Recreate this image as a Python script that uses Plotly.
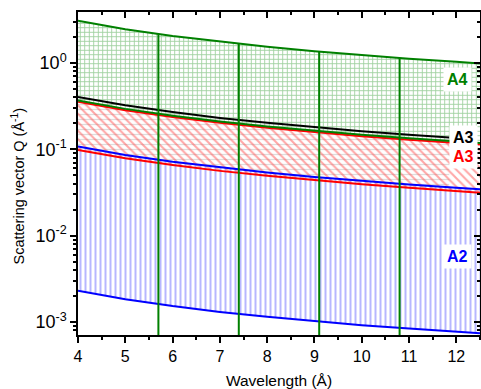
import math
import plotly.graph_objects as go

# ---- data ----
wavelength = [4, 5, 6, 7, 8, 9, 10, 11, 12, 12.5]
a4_upper = [3.08, 2.46, 2.05, 1.76, 1.54, 1.37, 1.23, 1.12, 1.03, 0.985]
a4_lower = [0.368, 0.294, 0.245, 0.21, 0.184, 0.163, 0.147, 0.134, 0.1225, 0.118]
wavelength_a3k = [4, 5, 6, 7, 8, 9, 10, 11, 11.85]
a3k_upper = [0.405, 0.324, 0.27, 0.231, 0.203, 0.18, 0.162, 0.147, 0.137]
a3r_upper = [0.355, 0.284, 0.237, 0.203, 0.178, 0.158, 0.142, 0.129, 0.118, 0.114]
a3r_lower = [0.0985, 0.0788, 0.0657, 0.0563, 0.0493, 0.0438, 0.0394, 0.0358, 0.0328, 0.0315]
a2_upper = [0.108, 0.0862, 0.0718, 0.0616, 0.0539, 0.0479, 0.0431, 0.0392, 0.0359, 0.0345]
a2_lower = [0.0023, 0.00184, 0.00153, 0.00131, 0.00115, 0.00102, 0.00092, 0.00084, 0.00077, 0.00074]
vline_lambda = [5.7, 7.4, 9.1, 10.8]
vline_top = [2.16, 1.66, 1.35, 1.14]
vline_bottom = 0.0001

ytick_vals = [0.001, 0.01, 0.1, 1]
ytick_text = ["10<sup>-3</sup>", "10<sup>-2</sup>", "10<sup>-1</sup>", "10<sup>0</sup>"]

label_text = ["A4", "A3", "A3", "A2"]
label_x = [12.02, 12.15, 12.15, 12.02]
label_q = [0.636, 0.138, 0.0815, 0.0057]

GREEN = "#008000"
RED = "#ff0000"
BLUE = "#0000ff"
label_color = [GREEN, "#000000", RED, BLUE]
FONT = "Liberation Sans, Arial, sans-serif"

fig = go.Figure()

def band(x, lo, hi, shape, fg, size, solidity):
    fig.add_trace(go.Scatter(x=x, y=lo, mode="lines", line=dict(width=0),
                             hoverinfo="skip", showlegend=False))
    fig.add_trace(go.Scatter(x=x, y=hi, mode="lines", line=dict(width=0),
                             fill="tonexty", fillcolor="rgba(0,0,0,0)",
                             fillpattern=dict(shape=shape, fgcolor=fg,
                                              bgcolor="rgba(0,0,0,0)",
                                              size=size, solidity=solidity),
                             hoverinfo="skip", showlegend=False))

# hatched regions
band(wavelength, a2_lower, a2_upper, "|", "rgb(110,110,255)", 5, 0.4)
a2_up_k = a2_upper[:len(wavelength_a3k) - 1] + [0.0364]
band(wavelength_a3k, a2_up_k, a3k_upper, "-", "rgba(130,130,130,0.55)", 5, 0.25)
band(wavelength, a3r_lower, a3r_upper, "\\", "rgb(255,80,80)", 6, 0.35)
band(wavelength, a4_lower, a4_upper, "+", "rgb(60,160,60)", 4.5, 0.35)

# boundary lines
def line(x, y, color):
    fig.add_trace(go.Scatter(x=x, y=y, mode="lines", line=dict(color=color, width=2),
                             hoverinfo="skip", showlegend=False))

line(wavelength, a2_lower, BLUE)
line(wavelength, a3r_lower, RED)
line(wavelength, a2_upper, BLUE)
line(wavelength, a3r_upper, RED)
line(wavelength_a3k, a3k_upper, "#000000")
line(wavelength, a4_lower, GREEN)
line(wavelength, a4_upper, GREEN)

vx, vy = [], []
for lam, top in zip(vline_lambda, vline_top):
    vx += [lam, lam, None]
    vy += [vline_bottom, top, None]
fig.add_trace(go.Scatter(x=vx, y=vy, mode="lines", line=dict(color=GREEN, width=2),
                         hoverinfo="skip", showlegend=False))

# dummy trace for mirrored axes
fig.add_trace(go.Scatter(x=[None], y=[None], xaxis="x2", yaxis="y2",
                         showlegend=False, hoverinfo="skip"))

# labels (annotation y on a log axis is given in log10 units)
for txt, lx, lq, col in zip(label_text, label_x, label_q, label_color):
    fig.add_annotation(x=lx, y=math.log10(lq), text="<b>%s</b>" % txt, showarrow=False,
                       font=dict(family=FONT, size=16, color=col),
                       bgcolor="white", xanchor="center", yanchor="middle", borderpad=3)

# y-axis title as a rotated annotation
fig.add_annotation(xref="paper", yref="paper", x=-0.149, y=0.46,
                   text="Scattering vector Q (Å<sup>-1</sup>)", textangle=-90,
                   showarrow=False, xanchor="center", yanchor="middle",
                   font=dict(family=FONT, size=14.5, color="black"))

yrange = [-3.15, 0.59]
xrange_ = [4, 12.5]
minor_y = [k * 10 ** d for d in range(-4, 1) for k in range(2, 10)]

axis_common = dict(showline=True, linecolor="black", linewidth=1.5, showgrid=False,
                   zeroline=False, tickcolor="black", tickwidth=1.5, automargin=False)

fig.update_layout(
    width=481, height=389,
    margin=dict(l=78, r=1, t=12, b=54),
    plot_bgcolor="white", paper_bgcolor="white",
    font=dict(family=FONT, color="black"),
    showlegend=False,
    xaxis=dict(range=xrange_, dtick=1, tick0=0, ticks="outside", ticklen=6,
               minor=dict(dtick=0.5, tick0=0, ticks="outside", ticklen=3,
                          tickcolor="black", tickwidth=1.5),
               tickfont=dict(size=16),
               title=dict(text="Wavelength (Å)", font=dict(size=15.5), standoff=12),
               **axis_common),
    yaxis=dict(type="log", range=yrange, tickmode="array", tickvals=ytick_vals,
               ticktext=ytick_text, ticks="outside", ticklen=6,
               minor=dict(tickmode="array", tickvals=minor_y, ticks="outside",
                          ticklen=3, tickcolor="black", tickwidth=1.5),
               tickfont=dict(size=18),
               **axis_common),
    xaxis2=dict(overlaying="x", side="top", range=xrange_, dtick=1, tick0=0,
                ticks="inside", ticklen=6, showticklabels=False,
                minor=dict(dtick=0.5, tick0=0, ticks="inside", ticklen=3,
                           tickcolor="black", tickwidth=1.5),
                **axis_common),
    yaxis2=dict(overlaying="y", side="right", type="log", range=yrange,
                tickmode="array", tickvals=ytick_vals, ticks="inside", ticklen=6,
                showticklabels=False,
                minor=dict(tickmode="array", tickvals=minor_y, ticks="inside",
                           ticklen=3, tickcolor="black", tickwidth=1.5),
                **axis_common),
)

fig.write_html("out.html", config={"displayModeBar": False},
               post_script="document.body.style.margin='0';document.body.style.padding='0';")
